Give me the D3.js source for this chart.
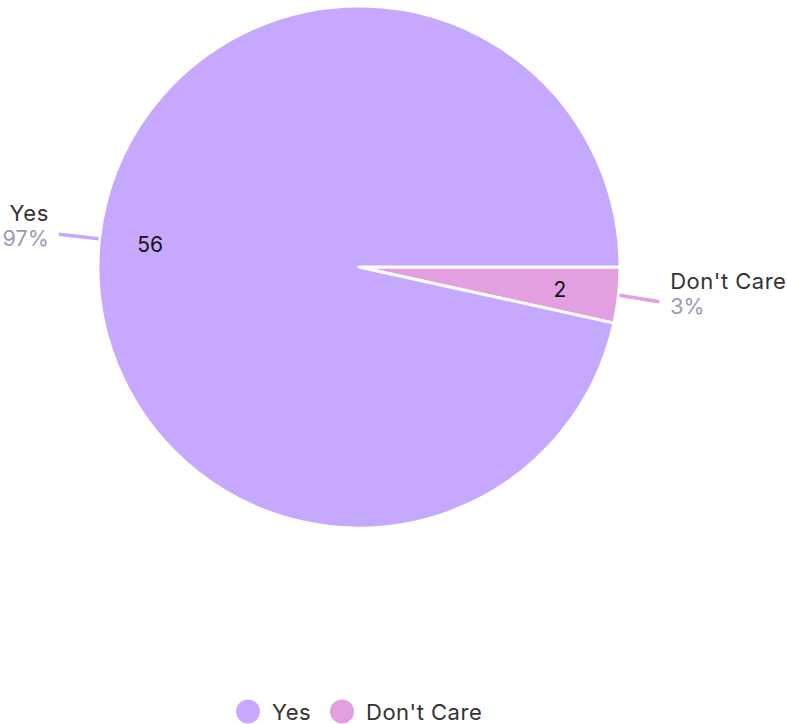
<!DOCTYPE html>
<html><head><meta charset="utf-8">
<script src="https://cdn.jsdelivr.net/npm/d3@7/dist/d3.min.js"></script>
<style>body{margin:0;background:#fff;}svg{display:block;font-family:Inter,"Noto Sans",sans-serif;}</style>
</head><body>
<svg id="c" width="787" height="724"></svg>
<script>
const categories = ["Yes", "Don't Care"];
const values = [56, 2];
const colors = ["#c6a9fe", "#e2a0e0"];

const svg = d3.select("#c");
const cx = 359, cy = 267, R = 261;
const total = d3.sum(values);
const data = categories.map((c, i) => ({cat: c, value: values[i], color: colors[i]}));

// Slices drawn clockwise starting at 3 o'clock; Don't Care first
const pie = d3.pie().value(d => d.value).sort(null)
  .startAngle(Math.PI/2).endAngle(Math.PI/2 + 2*Math.PI);
const order = [data[1], data[0]];
const arcs = pie(order);
const arc = d3.arc().innerRadius(0).outerRadius(R);
const g = svg.append("g").attr("transform", `translate(${cx},${cy})`);
g.selectAll("path").data(arcs).join("path")
  .attr("d", arc).attr("fill", d => d.data.color)
  .attr("stroke", "#fff").attr("stroke-width", 3).attr("stroke-linejoin", "round");

const inner = d3.arc().innerRadius(R*0.79).outerRadius(R*0.79);
g.selectAll("text.v").data(arcs).join("text").attr("class","v")
  .attr("transform", d => { const c = inner.centroid(d); return `translate(${c[0]-4},${c[1]})`; })
  .attr("text-anchor","middle").attr("dy","0.36em")
  .attr("font-size", 21).attr("fill","#111")
  .text(d => d.data.value);

arcs.forEach(d => {
  const a = (d.startAngle + d.endAngle)/2;
  const sx = Math.sin(a), sy = -Math.cos(a);
  const right = sx > 0;
  const p1 = [sx*(R+1), sy*(R+1)];
  const p2 = [sx*(R+41), sy*(R+41) + (right ? 2 : 0)];
  g.append("line").attr("x1",p1[0]).attr("y1",p1[1]).attr("x2",p2[0]).attr("y2",p2[1])
    .attr("stroke", d.data.color).attr("stroke-width",3.5);
  const tx = p2[0] + (right ? 11 : -10);
  const anchor = right ? "start" : "end";
  g.append("text").attr("x", tx).attr("y", p2[1] - 13).attr("text-anchor", anchor)
    .attr("font-size", 22).attr("letter-spacing", 0.5).attr("fill","#333").text(d.data.cat);
  g.append("text").attr("x", tx).attr("y", p2[1] + 12).attr("text-anchor", anchor)
    .attr("font-size", 21.5).attr("fill","#9b9bb2")
    .text(Math.round(d.data.value/total*100) + "%");
});

// legend
const legend = svg.append("g");
const lx = [248, 342];
data.forEach((d, i) => {
  legend.append("circle").attr("cx", lx[i]).attr("cy", 711.5).attr("r", 12).attr("fill", d.color);
  legend.append("text").attr("x", lx[i] + 24).attr("y", 720).attr("font-size", 22)
    .attr("letter-spacing", 0.5).attr("fill", "#333").text(d.cat);
});
</script>
</body></html>
